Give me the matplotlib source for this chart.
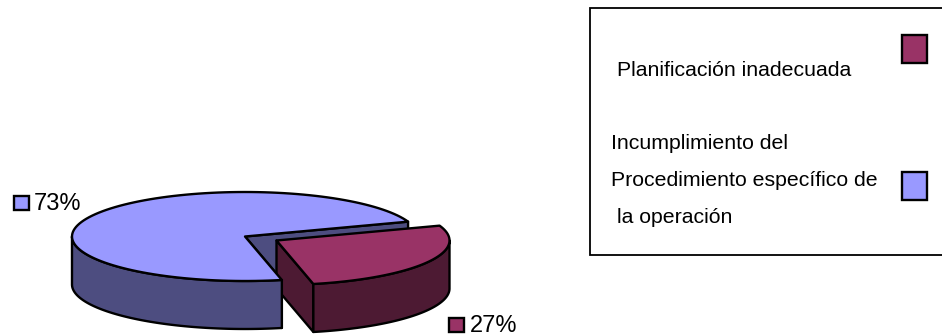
import numpy as np
import matplotlib.pyplot as plt
from matplotlib.patches import Polygon, Rectangle

plt.rcParams['font.family'] = ['Liberation Sans', 'DejaVu Sans']

categories = ['Planificación inadecuada',
              'Incumplimiento del\nProcedimiento específico de\nla operación']
shares = [27, 73]

top_colors = ['#993366', '#9999FF']
side_colors = ['#4D1A33', '#4D4D80']
edge = '#000000'
lw = 1.7

# pie geometry in figure pixels
rx, ry = 173, 44.5
depth = 48
center_blue = np.array([245.0, 236.5])
center_red = np.array([276.5, 240.5])
start_angle = 19.5


def rim(center, a0, a1, n=120):
    t = np.radians(np.linspace(a0, a1, n))
    return np.column_stack([center[0] + rx * np.cos(t), center[1] - ry * np.sin(t)])


def add_poly(ax, pts, color):
    ax.add_patch(Polygon(pts, closed=True, facecolor=color, edgecolor=edge,
                         linewidth=lw, joinstyle='round'))


def down(pts):
    return pts + np.array([0, depth])


fig = plt.figure(figsize=(9.42, 3.35), dpi=100)
ax = fig.add_axes([0, 0, 1, 1])
ax.set_xlim(0, 942)
ax.set_ylim(335, 0)
ax.axis('off')

red_sweep = shares[0] / sum(shares) * 360
red_end = start_angle - red_sweep

# blue slice, cut faces first so the red slice sits in front of them
blue_a = rim(center_blue, start_angle, start_angle, 1)
blue_b = rim(center_blue, red_end, red_end, 1)
add_poly(ax, np.vstack([center_blue, blue_a, down(blue_a), down(center_blue[None])]), side_colors[1])
add_poly(ax, np.vstack([center_blue, blue_b, down(blue_b), down(center_blue[None])]), side_colors[1])

# red slice, pulled out of the pie
red_rim = rim(center_red, start_angle, red_end)
red_b = red_rim[-1:]
add_poly(ax, np.vstack([center_red, red_b, down(red_b), down(center_red[None])]), side_colors[0])
red_wall = rim(center_red, 0, red_end)
add_poly(ax, np.vstack([red_wall, down(red_wall)[::-1]]), side_colors[0])
add_poly(ax, np.vstack([center_red, red_rim]), top_colors[0])

# blue outer wall and top
blue_wall = rim(center_blue, 180, 360 + red_end)
add_poly(ax, np.vstack([blue_wall, down(blue_wall)[::-1]]), side_colors[1])
add_poly(ax, np.vstack([center_blue, rim(center_blue, start_angle, 360 + red_end)]), top_colors[1])

# percentage labels with their small keys
ax.add_patch(Rectangle((14, 195.5), 14.5, 14.5, facecolor=top_colors[1], edgecolor=edge, linewidth=lw))
ax.text(34, 210, f'{shares[1]}%', fontsize=17, va='baseline', ha='left', color='black')
ax.add_patch(Rectangle((449, 318), 14.5, 14, facecolor=top_colors[0], edgecolor=edge, linewidth=lw))
ax.text(469.5, 332, f'{shares[0]}%', fontsize=17, va='baseline', ha='left', color='black')

# legend box, it runs up to the right edge of the figure
ax.add_patch(Rectangle((590, 8), 360, 247, facecolor='white', edgecolor=edge, linewidth=1.3))
ax.add_patch(Rectangle((902, 35), 25, 28, facecolor=top_colors[0], edgecolor=edge, linewidth=lw))
ax.add_patch(Rectangle((902, 172), 25, 28, facecolor=top_colors[1], edgecolor=edge, linewidth=lw))

ax.text(617, 76.5, categories[0], fontsize=15.3, va='baseline', ha='left')
for line, x, y in zip(categories[1].split('\n'), [611, 611, 617], [149, 186, 223]):
    ax.text(x, y, line, fontsize=15.3, va='baseline', ha='left')

fig.savefig('out.png', dpi=100)
